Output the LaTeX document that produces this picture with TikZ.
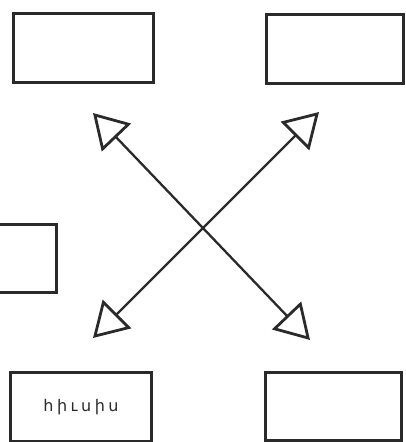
\documentclass[tikz,border=0pt]{standalone}
\usepackage{fontspec}
\newfontfamily\armfont{DejaVu Sans}
\usetikzlibrary{arrows.meta}
\definecolor{ink}{HTML}{2A2A2A}
\newcommand{\lsp}{\hspace{3.5pt}}
\begin{document}
\begin{tikzpicture}[x=1pt,y=-1pt,
  box/.style={draw=ink, line width=3pt, fill=white, inner sep=0pt, anchor=north west},
  dblarrow/.style={draw=ink, line width=2.3pt,
    {Triangle[open, length=34pt, width=40pt, line width=2.8pt]}-{Triangle[open, length=34pt, width=40pt, line width=2.8pt]}}]
\useasboundingbox (0,0) rectangle (405,442);
\clip (0,0) rectangle (405,442);
\node[box, minimum width=140pt, minimum height=69pt] (tl) at (12,12) {};
\node[box, minimum width=137pt, minimum height=69pt] (tr) at (265,13) {};
\node[box, minimum width=75pt, minimum height=68pt] (ml) at (-20,223) {};
\node[box, minimum width=141pt, minimum height=69pt] (bl) at (9,371) {};
\node[box, minimum width=136pt, minimum height=68pt] (br) at (264,371) {};
\node[font=\armfont\fontsize{16}{18}\selectfont, text=ink] (lbl) at (bl.center) {հ\lsp ի\lsp ւ\lsp ս\lsp ի\lsp ս};
\coordinate (a1) at (93,113);
\coordinate (a2) at (310,340);
\coordinate (b1) at (319,112);
\coordinate (b2) at (93,338);
\draw[dblarrow] (a1) -- (a2);
\draw[dblarrow] (b1) -- (b2);
\end{tikzpicture}
\end{document}
